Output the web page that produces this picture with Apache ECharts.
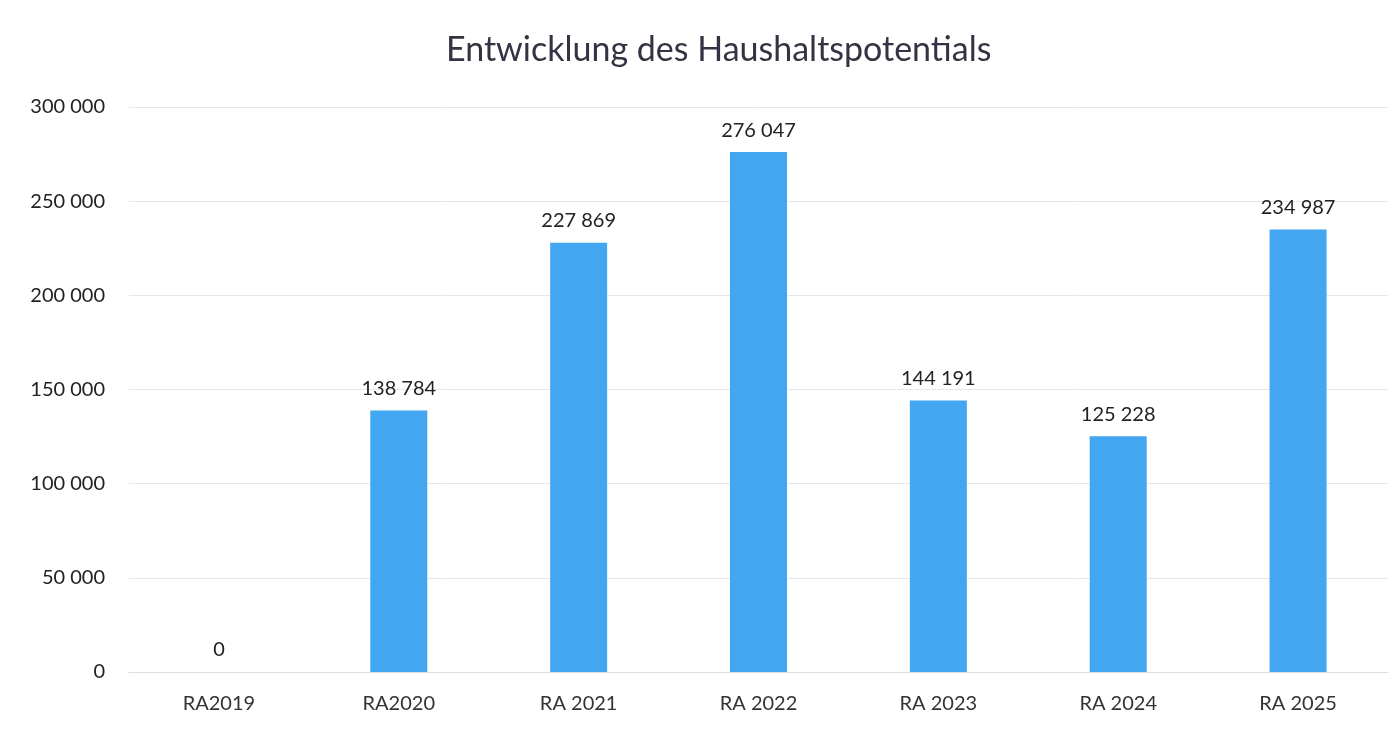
<!DOCTYPE html>
<html>
<head>
<meta charset="utf-8">
<script src="https://cdn.jsdelivr.net/npm/echarts@6/dist/echarts.min.js"></script>
<style>
  html, body { margin: 0; padding: 0; background: #fff; }
  #chart { width: 1397px; height: 729px; }
</style>
</head>
<body>
<div id="chart"></div>
<script>
const categories = ['RA2019', 'RA2020', 'RA 2021', 'RA 2022', 'RA 2023', 'RA 2024', 'RA 2025'];
const values = [0, 138784, 227869, 276047, 144191, 125228, 234987];
const yTicks = [0, 50000, 100000, 150000, 200000, 250000, 300000];

// 138784 -> "138 784"
function fmt(v) {
    return String(v).replace(/\B(?=(\d{3})+(?!\d))/g, ' ');
}

const chart = echarts.init(document.getElementById('chart'));
const font = 'Lato, "Open Sans", sans-serif';

chart.setOption({
    animation: false,
    title: {
        text: 'Entwicklung des Haushaltspotentials',
        left: 441,
        top: 28,
        textStyle: { fontFamily: font, fontSize: 34, fontWeight: 'normal', color: '#333344' }
    },
    grid: { left: 129, right: 9, top: 107, bottom: 57 },
    xAxis: {
        type: 'category',
        data: categories,
        axisLine: { lineStyle: { color: '#dcdde6' } },
        axisTick: { show: false },
        axisLabel: { fontFamily: font, fontSize: 20, color: '#333', margin: 22 }
    },
    yAxis: {
        type: 'value',
        min: yTicks[0],
        max: yTicks[yTicks.length - 1],
        interval: 50000,
        axisLine: { show: false },
        axisTick: { show: false },
        splitLine: { lineStyle: { color: '#e6e7ee' } },
        axisLabel: { fontFamily: font, fontSize: 20, color: '#222', margin: 24, formatter: fmt }
    },
    series: [{
        type: 'bar',
        data: values,
        barWidth: 57,
        itemStyle: { color: '#42a6f0' },
        label: {
            show: true,
            position: 'top',
            distance: 12,
            fontFamily: font,
            fontSize: 20,
            color: '#222',
            formatter: p => fmt(p.value)
        }
    }]
});
</script>
</body>
</html>
